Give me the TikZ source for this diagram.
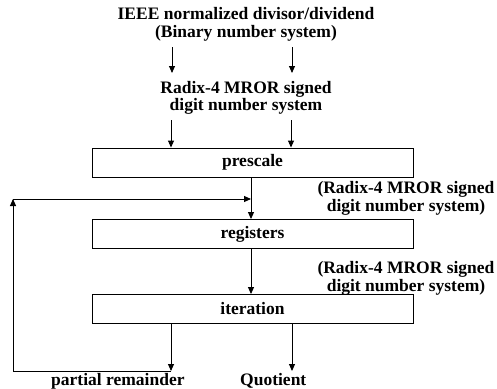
\documentclass[tikz,border=0pt]{standalone}
\usepackage{fontspec}
\setmainfont{Liberation Serif}
\usetikzlibrary{arrows.meta}
\begin{document}
\begin{tikzpicture}[x=1pt,y=-1pt,
  txt/.style={font=\fontsize{17.5}{17.5}\selectfont\bfseries, align=center, inner sep=0pt},
  blk/.style={draw, line width=0.9pt, minimum width=321pt, minimum height=29pt, font=\fontsize{17.5}{17.5}\selectfont\bfseries, inner sep=0pt},
  arr/.style={line width=0.9pt, -{Triangle[length=7pt,width=6pt]}},
  ln/.style={line width=0.9pt}]
\useasboundingbox (0,0) rectangle (497,388);
\node[txt] (ieee) at (246,24.5) {IEEE normalized divisor/dividend\\(Binary number system)};
\node[txt] (radix) at (246,98) {Radix-4 MROR signed\\digit number system};
\node[blk] (pre) at (252.5,162.5) {prescale};
\node[blk] (reg) at (252.5,234) {registers};
\node[blk] (it) at (252.5,309) {iteration};
\node[txt] (lab1) at (406,198.5) {(Radix-4 MROR signed\\digit number system)};
\node[txt] (lab2) at (406,278.5) {(Radix-4 MROR signed\\digit number system)};
\node[txt, anchor=base west] (pr) at (51,385) {partial remainder};
\node[txt, anchor=base west] (q) at (240,385) {Quotient};
% top arrows
\coordinate (a1s) at (172,47); \coordinate (a1e) at (172,73);
\coordinate (a2s) at (292,47); \coordinate (a2e) at (292,73);
\draw[arr] (a1s) -- (a1e);
\draw[arr] (a2s) -- (a2e);
\coordinate (b1s) at (171,120);
\coordinate (b2s) at (291,120);
\draw[arr] (b1s) -- (b1s |- pre.north);
\draw[arr] (b2s) -- (b2s |- pre.north);
% between boxes
\draw[arr] (pre.south -| 251,0) -- (reg.north -| 251,0);
\draw[arr] (reg.south -| 251,0) -- (it.north -| 251,0);
% outputs
\coordinate (prend) at (171,371);
\draw[arr] (it.south -| prend) -- (prend);
\coordinate (qend) at (292,371);
\draw[arr] (it.south -| qend) -- (qend);
% feedback
\coordinate (fb1) at (13,371);
\coordinate (fb2) at (13,199);
\coordinate (fb3) at (251,199);
\draw[ln] (prend) -- (fb1);
\draw[arr] (fb1) -- (fb2);
\draw[arr] (fb2) -- (fb3);
\end{tikzpicture}
\end{document}
